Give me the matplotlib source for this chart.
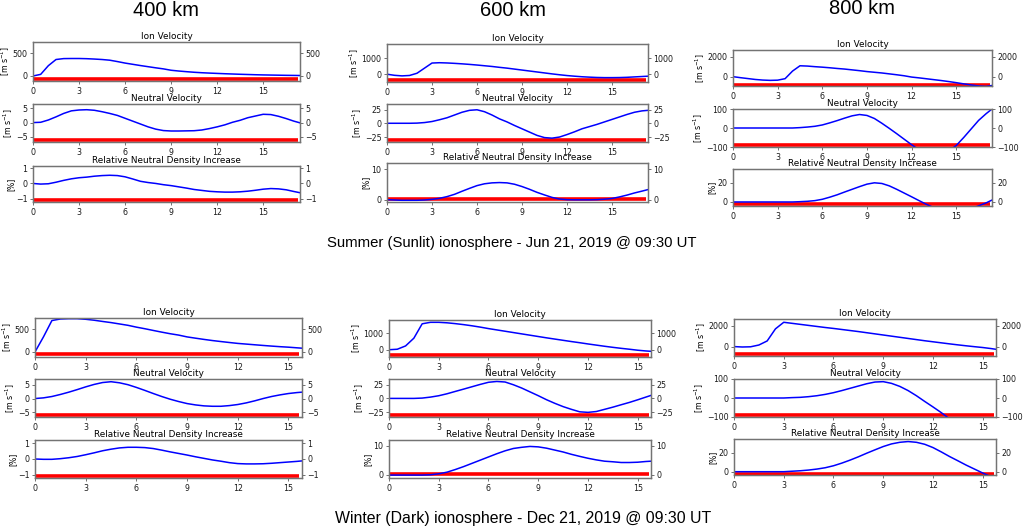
import matplotlib.pyplot as plt

# time axis (hours)
summer_hours = [0, 0.5, 1, 1.5, 2, 2.5, 3, 3.5, 4, 4.5, 5, 5.5, 6, 6.5, 7, 7.5, 8, 8.5,
                9, 9.5, 10, 10.5, 11, 11.5, 12, 12.5, 13, 13.5, 14, 14.5, 15, 15.5,
                16, 16.5, 17, 17.4]
winter_hours = [0, 0.5, 1, 1.5, 2, 2.5, 3, 3.5, 4, 4.5, 5, 5.5, 6, 6.5, 7, 7.5, 8, 8.5,
                9, 9.5, 10, 10.5, 11, 11.5, 12, 12.5, 13, 13.5, 14, 14.5, 15, 15.5, 15.8]

# Summer (Sunlit)
s400_ion = [0, 35, 225, 360, 380, 382, 382, 378, 370, 360, 345, 315, 282, 255, 228, 203,
            178, 155, 125, 108, 94, 81, 71, 63, 56, 49, 43, 37, 32, 27, 23, 20, 17, 14, 12, 10]
s400_neu = [0, 0.1, 0.9, 2.0, 3.2, 4.1, 4.4, 4.5, 4.3, 3.8, 3.2, 2.5, 1.5, 0.5, -0.5, -1.5,
            -2.3, -2.8, -2.95, -2.95, -2.9, -2.85, -2.6, -2.1, -1.5, -0.8, 0.1, 0.8, 1.7,
            2.3, 2.9, 2.8, 2.2, 1.4, 0.5, -0.1]
s400_den = [0, -0.04, -0.02, 0.08, 0.2, 0.3, 0.37, 0.41, 0.47, 0.51, 0.53, 0.51, 0.43, 0.29,
            0.14, 0.06, 0.0, -0.08, -0.14, -0.22, -0.3, -0.39, -0.45, -0.51, -0.54, -0.56,
            -0.56, -0.54, -0.5, -0.44, -0.37, -0.33, -0.35, -0.41, -0.52, -0.6]

s600_ion = [0, -70, -105, -80, 60, 380, 700, 720, 705, 680, 650, 615, 575, 530, 485, 430,
            380, 320, 260, 200, 140, 80, 20, -35, -85, -125, -160, -185, -205, -215, -215,
            -210, -195, -170, -145, -125]
s600_neu = [0, 0, 0, 0, 0.3, 1.3, 3.2, 6.4, 10, 15, 20, 23.5, 24.5, 21, 15, 8, 2.5, -4, -10,
            -16, -22, -26, -27, -25, -20.5, -15.5, -10, -6, -2, 2.5, 7, 11.5, 16, 20, 22.5, 23.5]
s600_den = [0, -0.1, -0.2, -0.2, -0.2, -0.1, 0.1, 0.45, 1.0, 1.75, 2.75, 3.7, 4.6, 5.2, 5.5,
            5.6, 5.5, 5.05, 4.3, 3.4, 2.4, 1.55, 0.75, 0.2, 0, -0.05, -0.05, -0.05, 0, 0.15,
            0.4, 0.9, 1.5, 2.2, 2.8, 3.3]

s800_ion = [0, -100, -190, -280, -340, -370, -350, -200, 560, 1090, 1060, 1000, 950, 890,
            820, 760, 680, 600, 510, 440, 370, 280, 190, 90, -40, -120, -210, -300, -390,
            -490, -600, -720, -830, -930, -970, -880]
s800_neu = [0, 0, 0, 0, 0, 0, 0, 0, 0, 2, 5, 9, 16, 27, 39, 52, 64, 71, 66, 50, 25, -2, -30,
            -59, -88, -115, -140, -150, -140, -120, -92, -50, -5, 40, 75, 100]
s800_den = [0, 0, 0, 0, 0, 0, 0, 0, 0, 0.3, 0.7, 1.4, 2.8, 5, 7.5, 10.4, 13.2, 16, 18.6, 20,
            19.3, 16.8, 13.2, 9.3, 5.4, 1.4, -2.5, -6, -9, -11, -11, -9.5, -7, -4, -1, 2]

# Winter (Dark)
w400_ion = [0, 330, 690, 724, 731, 731, 718, 697, 670, 645, 615, 585, 545, 510, 472, 435,
            400, 370, 330, 302, 275, 250, 228, 207, 187, 172, 157, 142, 128, 115, 104, 90, 82]
w400_neu = [0, 0.25, 0.75, 1.5, 2.35, 3.3, 4.3, 5.2, 5.9, 6.2, 5.8, 5.1, 4.1, 3.0, 1.85, 0.75,
            -0.25, -1.1, -1.85, -2.35, -2.7, -2.85, -2.85, -2.6, -2.2, -1.6, -0.85, 0, 0.75,
            1.35, 1.85, 2.2, 2.35]
w400_den = [0, -0.02, -0.02, 0.02, 0.08, 0.16, 0.27, 0.39, 0.52, 0.62, 0.7, 0.74, 0.74, 0.72,
            0.66, 0.56, 0.45, 0.35, 0.25, 0.14, 0.04, -0.06, -0.14, -0.23, -0.29, -0.31,
            -0.31, -0.3, -0.27, -0.23, -0.19, -0.15, -0.12]

w600_ion = [0, 30, 230, 700, 1570, 1660, 1660, 1630, 1580, 1520, 1450, 1370, 1280, 1200,
            1120, 1040, 960, 880, 800, 720, 645, 570, 495, 425, 350, 280, 210, 145, 85, 30,
            -30, -75, -95]
w600_neu = [0, 0, 0, 0, 0.6, 2.4, 4.9, 8.5, 12.8, 17, 21.3, 25.6, 29.5, 31, 30, 25, 19, 12, 5,
            -2.4, -9, -15, -20, -24.5, -25.5, -24, -20, -16, -11.6, -7.3, -2.5, 2.5, 5.5]
w600_den = [-0.1, -0.1, -0.1, -0.1, -0.1, 0, 0.33, 0.9, 1.8, 2.8, 3.9, 5.0, 6.1, 7.2, 8.2,
            9.0, 9.4, 9.7, 9.55, 9.1, 8.45, 7.8, 7.0, 6.3, 5.65, 5.1, 4.65, 4.45, 4.2, 4.2,
            4.3, 4.55, 4.65]

w800_ion = [0, -40, -20, 150, 540, 1700, 2330, 2230, 2130, 2030, 1930, 1830, 1740, 1640,
            1540, 1440, 1330, 1220, 1110, 1000, 890, 780, 670, 560, 460, 360, 260, 165, 75,
            -10, -90, -190, -260]
w800_neu = [0, 0, 0, 0, 0, 0, 0, 2, 3.5, 7, 12, 19, 28, 39, 51, 63, 75, 84, 86, 77, 61, 39,
            12, -18, -47, -77, -110, -140, -160, -175, -180, -180, -175]
w800_den = [0, 0, 0, 0, 0, 0, 0, 0.5, 1, 1.75, 2.8, 4.2, 6.3, 9.1, 12.3, 15.8, 19.6, 23.2,
            26.7, 29.5, 31.2, 32, 31.2, 29.1, 25.6, 21, 16.1, 11.6, 7, 2.8, -1.4, -5.3, -7.5]

# red bar: time span and level (ion, neutral, density) per altitude
red_span_summer = [0, 17.25]
red_span_winter = [0, 15.65]
s400_red = [-59, -6.0, -1.07]
s600_red = [-340, -31, 0.2]
s800_red = [-800, -89, -2.5]
w400_red = [-52, -6.2, -1.05]
w600_red = [-320, -30, 0.2]
w800_red = [-740, -88, -2.2]

titles = ['Ion Velocity', 'Neutral Velocity', 'Relative Neutral Density Increase']
units = [r'[m s$^{-1}$]', r'[m s$^{-1}$]', '[%]']
xticks = [0, 3, 6, 9, 12, 15]

W, H = 1024, 532
fig = plt.figure(figsize=(W / 100, H / 100), dpi=100)


def box(l, t, r, b):
    return [l / W, 1 - b / H, (r - l) / W, (b - t) / H]


def panel(rect, hours, vals, span, level, ylim, yticks, xmax, title, unit):
    ax = fig.add_axes(box(*rect))
    ax.plot(span, [level, level], color='red', lw=2.6, solid_capstyle='butt')
    ax.plot(hours, vals, color='blue', lw=1.1)
    ax.set_xlim(0, xmax)
    ax.set_ylim(ylim)
    ax.set_xticks(xticks)
    ax.set_yticks(yticks)
    ax.set_title(title, fontsize=6.4, pad=2.5)
    ax.set_ylabel(unit, fontsize=5.6, labelpad=0.5)
    ax2 = ax.twinx()
    ax2.set_ylim(ylim)
    ax2.set_yticks(yticks)
    for a in (ax, ax2):
        a.tick_params(labelsize=5.7, length=2.5, width=0.6, pad=1.5, color='0.35',
                      labelcolor='0.1')
        for s in a.spines.values():
            s.set_color('0.45')
            s.set_linewidth(0.9)
    return ax


# layout of each column: pixel boxes for the three stacked panels
summer_cols = [
    ([(33, 42, 300, 81), (33, 104, 300, 142), (33, 166, 300, 202)],
     [s400_ion, s400_neu, s400_den], s400_red,
     [(-110, 743), (-6.8, 6.5), (-1.2, 1.13)], [[0, 500], [-5, 0, 5], [-1, 0, 1]]),
    ([(387, 44, 648, 82), (387, 104, 648, 142), (387, 163, 648, 202)],
     [s600_ion, s600_neu, s600_den], s600_red,
     [(-489, 1894), (-34, 35), (-0.76, 12)], [[0, 1000], [-25, 0, 25], [0, 10]]),
    ([(733, 50, 992, 86), (733, 109, 992, 147), (733, 169, 992, 206)],
     [s800_ion, s800_neu, s800_den], s800_red,
     [(-933, 2667), (-100, 100), (-4.2, 34.4)], [[0, 2000], [-100, 0, 100], [0, 20]]),
]
winter_cols = [
    ([(35, 318, 302, 357), (35, 379, 302, 417), (35, 440, 302, 478)],
     [w400_ion, w400_neu, w400_den], w400_red,
     [(-112, 746), (-6.8, 7.2), (-1.2, 1.2)], [[0, 500], [-5, 0, 5], [-1, 0, 1]]),
    ([(389, 320, 651, 357), (389, 379, 651, 417), (389, 440, 651, 478)],
     [w600_ion, w600_neu, w600_den], w600_red,
     [(-440, 1800), (-34, 35.5), (-1.1, 11.9)], [[0, 1000], [-25, 0, 25], [0, 10]]),
    ([(734, 319, 996, 356), (734, 379, 996, 417), (734, 439, 996, 475)],
     [w800_ion, w800_neu, w800_den], w800_red,
     [(-903, 2645), (-100, 100), (-3.5, 34.7)], [[0, 2000], [-100, 0, 100], [0, 20]]),
]

for cols, hours, span, xmax in [(summer_cols, summer_hours, red_span_summer, 17.4),
                                (winter_cols, winter_hours, red_span_winter, 15.8)]:
    for rects, series, reds, ylims, yticks in cols:
        for i in range(3):
            panel(rects[i], hours, series[i], span, reds[i], ylims[i], yticks[i], xmax,
                  titles[i], units[i])

head = dict(ha='center', va='center', family='Liberation Sans', color='black')
fig.text(166 / W, 1 - 11 / H, '400 km', fontsize=14.5, **head)
fig.text(513 / W, 1 - 11 / H, '600 km', fontsize=14.5, **head)
fig.text(862 / W, 1 - 9 / H, '800 km', fontsize=14.5, **head)
fig.text(512 / W, 1 - 243 / H, 'Summer (Sunlit) ionosphere - Jun 21, 2019 @ 09:30 UT',
         fontsize=10.7, **head)
fig.text(523 / W, 1 - 518 / H, 'Winter (Dark) ionosphere - Dec 21, 2019 @ 09:30 UT',
         fontsize=11.4, **head)

fig.savefig('out.png', dpi=100)
